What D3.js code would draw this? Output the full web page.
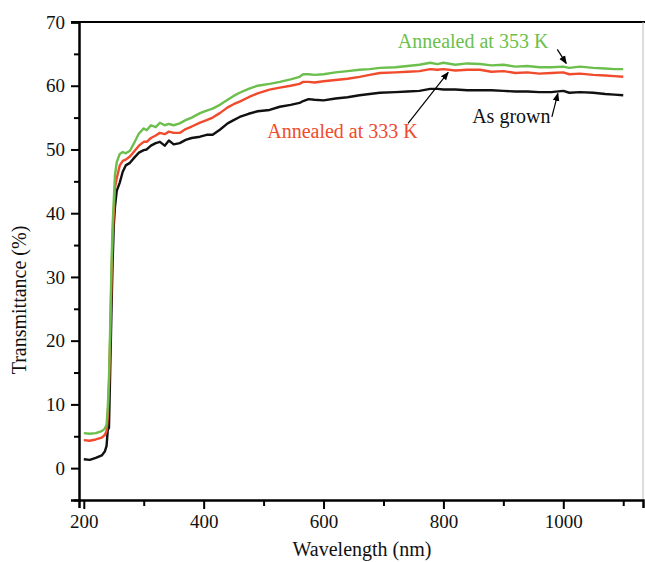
<!DOCTYPE html>
<html>
<head>
<meta charset="utf-8">
<script src="https://cdn.jsdelivr.net/npm/d3@7"></script>
<style>
  body { margin: 0; background: #fff; }
  svg text { font-family: "Liberation Serif", "Times New Roman", serif; }
</style>
</head>
<body>
<svg id="chart" width="645" height="562"></svg>
<script>
// Wavelength (nm) and transmittance (%)
const wavelength = [200, 210, 220, 230, 235, 238, 240, 242, 244, 246, 248, 250, 252, 255, 260, 265, 270, 277, 285, 292,
    300, 305, 312, 320, 327, 335, 342, 350, 360, 370, 380, 394, 405, 415, 427, 440, 450, 460, 475, 490,
    510, 527, 545, 560, 566, 575, 585, 600, 620, 640, 660, 677, 694, 720, 740, 760, 778, 790, 800, 820,
    840, 861, 880, 900, 920, 940, 960, 980, 1000, 1010, 1028, 1050, 1070, 1085, 1100];

const asGrown = [1.4, 1.3, 1.6, 2.0, 2.6, 3.5, 6.0, 6.3, 15, 24, 32, 38, 41, 43.5, 44.8, 46.5, 47.5, 47.9, 48.8, 49.5,
    49.9, 50.0, 50.6, 51.0, 51.2, 50.6, 51.4, 50.8, 51.0, 51.5, 51.8, 52.0, 52.3, 52.3, 53.1, 54.1, 54.6, 55.1, 55.6, 56.0,
    56.2, 56.7, 57.0, 57.3, 57.6, 57.9, 57.8, 57.7, 58.0, 58.2, 58.5, 58.7, 58.9, 59.0, 59.1, 59.2, 59.5, 59.5, 59.4, 59.4,
    59.3, 59.3, 59.3, 59.2, 59.1, 59.1, 59.0, 59.0, 59.2, 58.9, 59.0, 58.9, 58.7, 58.6, 58.5];

const annealed333 = [4.4, 4.3, 4.5, 4.8, 5.2, 5.8, 8, 13, 20, 29, 36, 40, 44, 45.5, 47.5, 48.2, 48.4, 48.9, 49.8, 50.6,
    51.2, 51.2, 51.8, 52.2, 52.6, 52.4, 52.8, 52.6, 52.6, 53.2, 53.6, 54.2, 54.6, 55.0, 55.7, 56.6, 57.1, 57.5, 58.2, 58.8,
    59.4, 59.7, 60.0, 60.3, 60.6, 60.6, 60.5, 60.7, 60.9, 61.1, 61.4, 61.7, 62.0, 62.1, 62.2, 62.3, 62.6, 62.5, 62.6, 62.4,
    62.5, 62.5, 62.2, 62.3, 62.0, 62.1, 61.9, 62.0, 62.1, 61.8, 61.9, 61.7, 61.6, 61.5, 61.4];

const annealed353 = [5.5, 5.4, 5.5, 5.8, 6.2, 6.8, 9.5, 14, 22, 31, 38, 42, 46, 48, 49.3, 49.6, 49.4, 49.8, 51.2, 52.5,
    53.3, 53.0, 53.8, 53.5, 54.2, 53.8, 54.0, 53.8, 54.1, 54.6, 55.0, 55.7, 56.1, 56.4, 57.0, 57.8, 58.4, 58.9, 59.5, 60.0,
    60.3, 60.6, 61.0, 61.4, 61.8, 61.8, 61.7, 61.8, 62.1, 62.3, 62.5, 62.6, 62.8, 62.9, 63.1, 63.3, 63.6, 63.4, 63.6, 63.3,
    63.5, 63.4, 63.2, 63.3, 63.0, 63.1, 62.9, 62.9, 63.0, 62.8, 63.0, 62.8, 62.7, 62.6, 62.6];

const xTicks = [200, 400, 600, 800, 1000];
const yTicks = [0, 10, 20, 30, 40, 50, 60, 70];

const series = [
    { name: "As grown", values: asGrown, color: "#111111" },
    { name: "Annealed at 333 K", values: annealed333, color: "#f04b2c" },
    { name: "Annealed at 353 K", values: annealed353, color: "#6cbf4c" }
];

// labels: text position and arrow (data coordinates)
const labels = [
    { text: "Annealed at 353 K", color: "#6cbf4c", x: 724, y: 65.9, arrow: [[990, 65.7], [1005, 63.5]] },
    { text: "Annealed at 333 K", color: "#f04b2c", x: 506, y: 51.8, arrow: [[741, 54.1], [808, 62.1]] },
    { text: "As grown", color: "#111111", x: 848, y: 54.1, arrow: [[981, 55.1], [991, 58.8]] }
];

const svg = d3.select("#chart");
const plotLeft = 79, plotRight = 643, plotTop = 22, plotBottom = 500;

const x = d3.scaleLinear().domain([192, 1133]).range([plotLeft, plotRight]);
const y = d3.scaleLinear().domain([-5, 70]).range([plotBottom, plotTop]);

// frame: top line and faint right edge
svg.append("line")
    .attr("x1", plotLeft - 8).attr("x2", 645)
    .attr("y1", plotTop).attr("y2", plotTop)
    .attr("stroke", "#000").attr("stroke-width", 2);
svg.append("line")
    .attr("x1", plotRight).attr("x2", plotRight)
    .attr("y1", plotTop).attr("y2", plotBottom)
    .attr("stroke", "#bbb").attr("stroke-width", 1);

// x axis
const xAxis = svg.append("g")
    .attr("transform", `translate(0,${plotBottom})`)
    .call(d3.axisBottom(x).tickValues(d3.range(200, 1101, 100))
        .tickSize(8).tickFormat(d => xTicks.includes(d) ? d : ""));
xAxis.select(".domain").attr("stroke-width", 2.5);
xAxis.selectAll(".tick line").attr("stroke-width", 2)
    .attr("y2", d => xTicks.includes(d) ? 9 : 6);
xAxis.selectAll(".tick text").attr("font-size", 19).attr("y", 15)
    .attr("font-family", "Liberation Serif").attr("fill", "#111");

// y axis
const yAxis = svg.append("g")
    .attr("transform", `translate(${plotLeft},0)`)
    .call(d3.axisLeft(y).tickValues(d3.range(-5, 71, 5))
        .tickSize(8).tickFormat(d => yTicks.includes(d) ? d : ""));
yAxis.select(".domain").attr("stroke-width", 2.5);
yAxis.selectAll(".tick line").attr("stroke-width", 2)
    .attr("x2", d => yTicks.includes(d) ? -8 : -5);
yAxis.selectAll(".tick text").attr("font-size", 19).attr("x", -14)
    .attr("font-family", "Liberation Serif").attr("fill", "#111");

// curves
const line = d3.line()
    .x((d, i) => x(wavelength[i]))
    .y(d => y(d));

svg.append("g")
    .selectAll("path")
    .data(series)
    .enter()
    .append("path")
    .attr("d", d => line(d.values))
    .attr("fill", "none")
    .attr("stroke", d => d.color)
    .attr("stroke-width", 2.4)
    .attr("stroke-linejoin", "round");

// arrow head
svg.append("defs").append("marker")
    .attr("id", "head")
    .attr("viewBox", "0 0 10 10")
    .attr("refX", 9).attr("refY", 5)
    .attr("markerWidth", 7).attr("markerHeight", 7)
    .attr("orient", "auto")
    .append("path")
    .attr("d", "M0,1 L10,5 L0,9 Z")
    .attr("fill", "#000");

svg.append("g")
    .selectAll("line")
    .data(labels)
    .enter()
    .append("line")
    .attr("x1", d => x(d.arrow[0][0]))
    .attr("y1", d => y(d.arrow[0][1]))
    .attr("x2", d => x(d.arrow[1][0]))
    .attr("y2", d => y(d.arrow[1][1]))
    .attr("stroke", "#000")
    .attr("stroke-width", 1.2)
    .attr("marker-end", "url(#head)");

svg.append("g")
    .selectAll("text")
    .data(labels)
    .enter()
    .append("text")
    .attr("x", d => x(d.x))
    .attr("y", d => y(d.y))
    .attr("font-size", 20)
    .attr("fill", d => d.color)
    .text(d => d.text);

// axis titles
svg.append("text")
    .attr("x", 362)
    .attr("y", 556)
    .attr("text-anchor", "middle")
    .attr("font-size", 20)
    .attr("fill", "#111")
    .text("Wavelength (nm)");

svg.append("text")
    .attr("transform", "translate(26,300) rotate(-90)")
    .attr("text-anchor", "middle")
    .attr("font-size", 20)
    .attr("fill", "#111")
    .text("Transmittance (%)");
</script>
</body>
</html>
